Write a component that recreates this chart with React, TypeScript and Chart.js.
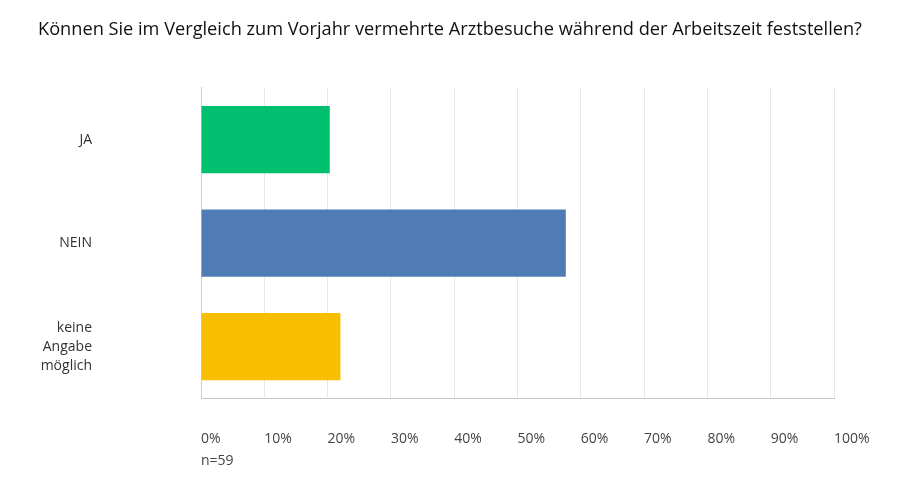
import React, { useEffect, useRef } from "react";
import { Chart, registerables } from "chart.js";

Chart.register(...registerables);

const TITLE = "Können Sie im Vergleich zum Vorjahr vermehrte Arztbesuche während der Arbeitszeit feststellen?";
const categories: (string | string[])[] = ["JA", "NEIN", ["keine", "Angabe", "möglich"]];
const values = [20.34, 57.63, 22.03];
const colors = ["#00BF6F", "#507CB6", "#F9BE00"];
const tickValues = [0, 10, 20, 30, 40, 50, 60, 70, 80, 90, 100];
const sampleNote = "n=59";

const FONT = "'Open Sans', 'DejaVu Sans', sans-serif";

export default function App() {
  const ref = useRef<HTMLCanvasElement | null>(null);
  useEffect(() => {
    if (!ref.current) return;
    const chart = new Chart(ref.current, {
      type: "bar",
      data: {
        labels: categories,
        datasets: [
          {
            data: values,
            backgroundColor: colors,
            borderWidth: 0,
            categoryPercentage: 0.65,
            barPercentage: 1,
          },
        ],
      },
      options: {
        indexAxis: "y",
        animation: false,
        responsive: false,
        maintainAspectRatio: false,
        layout: { padding: 0 },
        plugins: {
          legend: { display: false },
          tooltip: { enabled: false },
          title: {
            display: true,
            text: TITLE,
            color: "#111",
            font: { family: FONT, size: 18.2, weight: "normal" },
            padding: { top: 19, bottom: 47 },
          },
        },
        scales: {
          x: {
            min: 0,
            max: 100,
            afterBuildTicks: (s: any) => {
              s.ticks = tickValues.map((v) => ({ value: v }));
            },
            afterFit: (s: any) => {
              s.paddingLeft = 0;
              s.paddingRight = 66;
            },
            grid: { color: "#e8e8e8", lineWidth: 1, drawTicks: false },
            border: { display: true, color: "#c8c8c8", width: 1 },
            ticks: {
              align: "start",
              padding: 32,
              color: "#444",
              font: { family: FONT, size: 14 },
              callback: (v: any) => `${v}%`,
            },
            title: {
              display: true,
              text: sampleNote,
              align: "start",
              color: "#444",
              font: { family: FONT, size: 14 },
              padding: { top: -27, bottom: 27 },
            },
          },
          y: {
            afterFit: (s: any) => {
              s.width = 201;
              s.paddingTop = 0;
              s.paddingBottom = 0;
            },
            grid: { display: false, drawTicks: false },
            border: { display: true, color: "#d0d0d0", width: 1 },
            ticks: {
              padding: 109,
              color: "#333",
              font: { family: FONT, size: 14, lineHeight: 1.35 },
            },
          },
        },
      },
    });
    return () => chart.destroy();
  }, []);
  return (
    <div style={{ position: "fixed", left: 0, top: 0, width: 900, height: 496, background: "#fff" }}>
      <canvas ref={ref} width={900} height={496} style={{ width: 900, height: 496 }} />
    </div>
  );
}
